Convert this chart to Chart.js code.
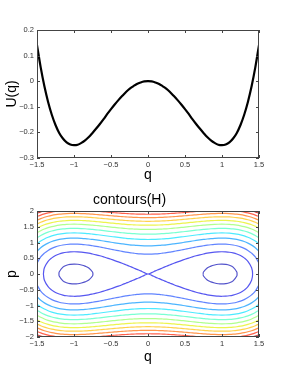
<!DOCTYPE html>
<html><head><meta charset="utf-8">
<script src="https://cdn.jsdelivr.net/npm/chart.js@4"></script>
<style>
html,body{margin:0;padding:0;background:#fff;width:286px;height:381px;overflow:hidden}
#c1{position:absolute;left:0;top:0}
#c2{position:absolute;left:0;top:180px}
</style></head><body>
<canvas id="c1" width="286" height="190"></canvas>
<canvas id="c2" width="286" height="201"></canvas>
<script>
// ---- data ----
const qValues = [-1.5,-1.45,-1.4,-1.35,-1.3,-1.25,-1.2,-1.15,-1.1,-1.05,-1,-0.95,-0.9,-0.85,-0.8,-0.75,-0.7,-0.65,-0.6,-0.55,-0.5,-0.45,-0.4,-0.35,-0.3,-0.25,-0.2,-0.15,-0.1,-0.05,0,
  0.05,0.1,0.15,0.2,0.25,0.3,0.35,0.4,0.45,0.5,0.55,0.6,0.65,0.7,0.75,0.8,0.85,0.9,0.95,1,1.05,1.1,1.15,1.2,1.25,1.3,1.35,1.4,1.45,1.5];
const uValues = [0.141,0.054,-0.020,-0.081,-0.131,-0.171,-0.202,-0.224,-0.239,-0.247,-0.250,-0.248,-0.241,-0.231,-0.218,-0.202,-0.185,-0.167,-0.148,-0.128,-0.109,-0.091,-0.074,-0.058,-0.043,-0.030,-0.020,-0.011,-0.005,-0.001,0,
  -0.001,-0.005,-0.011,-0.020,-0.030,-0.043,-0.058,-0.074,-0.091,-0.109,-0.128,-0.148,-0.167,-0.185,-0.202,-0.218,-0.231,-0.241,-0.248,-0.250,-0.247,-0.239,-0.224,-0.202,-0.171,-0.131,-0.081,-0.020,0.054,0.141];
const contourLevels = [-0.2,0,0.2,0.4,0.6,0.8,1.0,1.2,1.4,1.6,1.8,2.0];
const qTicks = [-1.5,-1,-0.5,0,0.5,1,1.5];
const uTicks = [-0.3,-0.2,-0.1,0,0.1,0.2];
const pTicks = [-2,-1.5,-1,-0.5,0,0.5,1,1.5,2];
// ---- styles ----
const levelColors = ['rgba(40,40,190,0.8)','rgba(30,30,235,0.75)','rgba(30,80,255,0.7)','rgba(0,150,255,0.7)','rgba(0,225,255,0.7)','rgba(66,255,189,0.7)','rgba(150,255,105,0.75)','rgba(230,240,18,0.75)','rgba(255,189,0,0.7)','rgba(255,105,0,0.7)','rgba(255,30,0,0.7)','rgba(189,0,0,0.75)'];
const FONT = "'Liberation Sans', Arial, sans-serif";

function fmt(v){ return String(v).replace('-', '\u2212'); }

const boxPlugin = {
  id: 'box',
  afterDatasetsDraw(chart) {
    const {ctx, chartArea: a, scales: {x, y}} = chart;
    const L = 3;
    ctx.save();
    ctx.strokeStyle = '#444';
    ctx.lineWidth = 1;
    ctx.beginPath();
    x.ticks.forEach(t => {
      const px = Math.round(x.getPixelForValue(t.value)) + 0.5;
      ctx.moveTo(px, a.bottom); ctx.lineTo(px, a.bottom - L);
      ctx.moveTo(px, a.top); ctx.lineTo(px, a.top + L);
    });
    y.ticks.forEach(t => {
      const py = Math.round(y.getPixelForValue(t.value)) + 0.5;
      ctx.moveTo(a.left, py); ctx.lineTo(a.left + L, py);
      ctx.moveTo(a.right, py); ctx.lineTo(a.right - L, py);
    });
    ctx.stroke();
    ctx.strokeRect(Math.round(a.left) + 0.5, Math.round(a.top) + 0.5, Math.round(a.right - a.left) - 1, Math.round(a.bottom - a.top) - 1);
    ctx.restore();
  }
};

function axis(min, max, tickList, title, width, height, titlePad, tickPad) {
  const o = {
    type: 'linear', min, max,
    grid: {display: false, drawTicks: false},
    border: {display: false},
    afterBuildTicks: s => { s.ticks = tickList.map(v => ({value: v})); },
    ticks: {font: {family: FONT, size: 7.5}, color: '#333', padding: tickPad, callback: v => fmt(v), maxRotation: 0, autoSkip: false},
    title: {display: true, text: title, font: {family: FONT, size: 14, lineHeight: 1.2}, color: '#000', padding: titlePad}
  };
  if (width) o.afterFit = s => { s.width = width; };
  if (height) o.afterFit = s => { s.height = height; };
  return o;
}

const common = {
  responsive: false, animation: false, events: [],
  plugins: {legend: {display: false}, tooltip: {enabled: false}},
  elements: {point: {radius: 0}, line: {capBezierPoints: false}}
};

// ---- top chart: U(q) ----
new Chart(document.getElementById('c1'), {
  type: 'scatter',
  data: {datasets: [{
    data: qValues.map((q, i) => ({x: q, y: uValues[i]})),
    showLine: true, borderColor: '#000', borderWidth: 2.2, tension: 0.4, pointRadius: 0
  }]},
  options: Object.assign({}, common, {
    layout: {padding: {top: 30, right: 27, left: 0, bottom: 0}},
    scales: {
      x: axis(-1.5, 1.5, qTicks, 'q', null, 32, {top: 0, bottom: 6.6}, 2),
      y: axis(-0.3, 0.2, uTicks, 'U(q)', 37, null, {top: 4, bottom: 0}, 3)
    }
  }),
  plugins: [boxPlugin]
});

// ---- bottom chart: contours of H = p^2/2 + U(q) ----
function crossing(i, j, level) {
  const u0 = uValues[i], u1 = uValues[j];
  return qValues[i] + (qValues[j] - qValues[i]) * (level - u0) / (u1 - u0);
}
function contourPaths(level) {
  const n = qValues.length, paths = [];
  let i = 0;
  while (i < n) {
    if (level - uValues[i] < 0) { i++; continue; }
    let j = i;
    while (j + 1 < n && level - uValues[j + 1] >= 0) j++;
    const upper = [];
    for (let k = i; k <= j; k++) upper.push({x: qValues[k], y: Math.sqrt(2 * (level - uValues[k]))});
    const start = i > 0 ? crossing(i - 1, i, level) : null;
    const end = j < n - 1 ? crossing(j, j + 1, level) : null;
    const lower = upper.slice().reverse().map(p => ({x: p.x, y: -p.y}));
    if (start === null && end === null) {
      paths.push(upper); paths.push(lower);
    } else {
      const loop = [];
      if (start !== null) loop.push({x: start, y: 0});
      loop.push(...upper);
      if (end !== null) loop.push({x: end, y: 0});
      loop.push(...lower);
      if (start !== null) loop.push({x: start, y: 0});
      paths.push(loop);
    }
    i = j + 1;
  }
  return paths;
}
const contourSets = [];
contourLevels.forEach((lv, idx) => {
  contourPaths(lv).forEach(path => contourSets.push({
    data: path, showLine: true, borderColor: levelColors[idx], borderWidth: 1.2, tension: 0.4, pointRadius: 0
  }));
});

new Chart(document.getElementById('c2'), {
  type: 'scatter',
  data: {datasets: contourSets},
  options: Object.assign({}, common, {
    layout: {padding: {top: 0, right: 27, left: 0, bottom: 0}},
    plugins: {
      legend: {display: false}, tooltip: {enabled: false},
      title: {display: true, text: 'contours(H)', color: '#000', font: {family: FONT, size: 14, weight: 'normal', lineHeight: 1.2}, padding: {top: 11.6, bottom: 2.6}}
    },
    scales: {
      x: axis(-1.5, 1.5, qTicks, 'q', null, 44, {top: 0, bottom: 15.6}, 2),
      y: axis(-2, 2, pTicks, 'p', 37, null, {top: 4, bottom: 0}, 3)
    }
  }),
  plugins: [boxPlugin]
});
</script>
</body></html>
